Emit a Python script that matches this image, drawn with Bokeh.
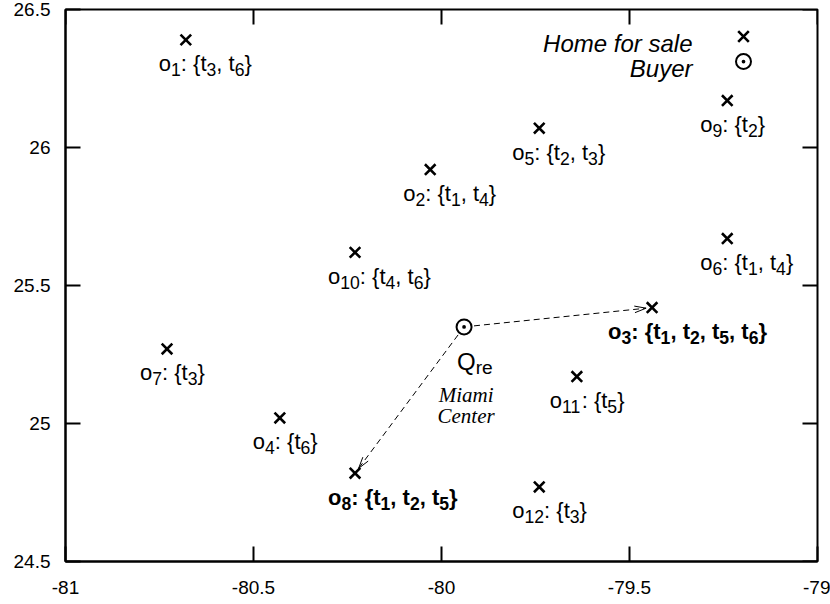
import math

from bokeh.core.properties import value
from bokeh.embed import file_html
from bokeh.models import ColumnDataSource, FixedTicker, Range1d
from bokeh.plotting import figure
from bokeh.resources import INLINE

# ---- data -------------------------------------------------------------
# homes for sale: object id, longitude, latitude and the terms each one has
home_ids = [1, 2, 3, 4, 5, 6, 7, 8, 9, 10, 11, 12]
home_lon = [-80.68, -80.03, -79.44, -80.43, -79.74, -79.24,
            -80.73, -80.23, -79.24, -80.23, -79.64, -79.74]
home_lat = [26.39, 25.92, 25.42, 25.02, 26.07, 25.67,
            25.27, 24.82, 26.17, 25.62, 25.17, 24.77]
home_terms = [[3, 6], [1, 4], [1, 2, 5, 6], [6], [2, 3], [1, 4],
              [3], [1, 2, 5], [2], [4, 6], [5], [3]]
result_ids = [3, 8]          # homes returned for the query (bold + arrow)

# the buyer issuing the query
buyer_lon = [-79.94]
buyer_lat = [25.35]
buyer_name = ["Q", "re"]     # main text, subscript
place_lines = ["Miami", "Center"]

xticks = [-81, -80.5, -80, -79.5, -79]
xtick_labels = ["-81", "-80.5", "-80", "-79.5", "-79"]
yticks = [24.5, 25, 25.5, 26, 26.5]
ytick_labels = ["24.5", "25", "25.5", "26", "26.5"]
legend_labels = ["Home for sale", "Buyer"]

# ---- layout -----------------------------------------------------------
W, H = 830, 604
BL, BR, BT, BB = 65, 13, 9, 43
FW, FH = W - BL - BR, H - BT - BB
X0, X1 = xticks[0], xticks[-1]
Y0, Y1 = yticks[0], yticks[-1]
PXX = FW / (X1 - X0)         # pixels per degree of longitude
PXY = FH / (Y1 - Y0)         # pixels per degree of latitude
TICK = 15                    # inward tick length, pixels

FONT = "Liberation Sans"
LABEL_PX = 22.0
SUB_PX = LABEL_PX * 0.8
SUB_DROP = 6

# Arial / Liberation Sans advance widths (1/1000 em)
REG = {'o': 556, 't': 278, '{': 334, '}': 334, ',': 278, ' ': 278, ':': 278,
       'Q': 778, 'r': 333, 'e': 556}
BOLD = {'o': 611, 't': 333, '{': 389, '}': 389, ',': 278, ' ': 278, ':': 333}
for d in "0123456789":
    REG[d] = 556
    BOLD[d] = 556


def text_width(s, size, bold=False):
    tbl = BOLD if bold else REG
    return sum(tbl[c] for c in s) * size / 1000.0


def label_runs(oid, terms):
    runs = [("o", False), (str(oid), True), (": {", False)]
    for k, t in enumerate(terms):
        if k:
            runs.append((", ", False))
        runs += [("t", False), (str(t), True)]
    runs.append(("}", False))
    return runs


def px_to_data(px, py):
    return X0 + (px - BL) / PXX, Y1 - (py - BT) / PXY


p = figure(width=W, height=H, x_range=Range1d(X0, X1), y_range=Range1d(Y0, Y1),
           output_backend="svg", toolbar_location=None,
           min_border_left=BL, min_border_right=BR,
           min_border_top=BT, min_border_bottom=BB)
p.grid.visible = False
p.outline_line_color = "black"
p.outline_line_width = 2

p.xaxis.ticker = FixedTicker(ticks=xticks)
p.yaxis.ticker = FixedTicker(ticks=yticks)
p.xaxis.major_label_overrides = dict(zip(xticks, xtick_labels))
p.yaxis.major_label_overrides = dict(zip(yticks, ytick_labels))
for ax in p.axis:
    ax.major_tick_in = TICK
    ax.major_tick_out = 0
    ax.major_tick_line_width = 2
    ax.major_tick_line_color = "black"
    ax.minor_tick_in = 0
    ax.minor_tick_out = 0
    ax.axis_line_width = 2
    ax.axis_line_color = "black"
    ax.major_label_text_font = FONT
    ax.major_label_text_font_size = "19px"
    ax.major_label_text_color = "black"
p.xaxis.major_label_standoff = 19
p.yaxis.major_label_standoff = 15

# mirrored inward ticks on the top and right edges of the frame
mt = dict(x0=[], y0=[], x1=[], y1=[])
for t in xticks:
    mt["x0"].append(t)
    mt["y0"].append(Y1)
    mt["x1"].append(t)
    mt["y1"].append(Y1 - TICK / PXY)
for t in yticks:
    mt["x0"].append(X1)
    mt["y0"].append(t)
    mt["x1"].append(X1 - TICK / PXX)
    mt["y1"].append(t)
p.segment(x0="x0", y0="y0", x1="x1", y1="y1", source=ColumnDataSource(mt),
          line_color="black", line_width=2)

# ---- arrows from the buyer to the returned homes ----------------------
bx, by = buyer_lon[0], buyer_lat[0]
shaft = dict(x0=[], y0=[], x1=[], y1=[])
head = dict(x0=[], y0=[], x1=[], y1=[])
for oid in result_ids:
    i = home_ids.index(oid)
    dx = (home_lon[i] - bx) * PXX
    dy = (home_lat[i] - by) * PXY
    L = math.hypot(dx, dy)
    ux, uy = dx / L, dy / L
    s = 10.0
    e = L - 6.0
    shaft["x0"].append(bx + ux * s / PXX)
    shaft["y0"].append(by + uy * s / PXY)
    shaft["x1"].append(bx + ux * e / PXX)
    shaft["y1"].append(by + uy * e / PXY)
    tx, ty = bx + ux * e / PXX, by + uy * e / PXY
    for sgn in (1, -1):
        a = math.radians(16) * sgn
        wx = -(ux * math.cos(a) - uy * math.sin(a)) * 12
        wy = -(ux * math.sin(a) + uy * math.cos(a)) * 12
        head["x0"].append(tx)
        head["y0"].append(ty)
        head["x1"].append(tx + wx / PXX)
        head["y1"].append(ty + wy / PXY)

p.segment(x0="x0", y0="y0", x1="x1", y1="y1", source=ColumnDataSource(shaft),
          line_color="black", line_width=1, line_dash="6 4")
p.segment(x0="x0", y0="y0", x1="x1", y1="y1", source=ColumnDataSource(head),
          line_color="black", line_width=1)

# ---- markers ---------------------------------------------------------
p.scatter(home_lon, home_lat, marker="x", size=15, line_width=2.6,
          line_color="black")
p.scatter(buyer_lon, buyer_lat, marker="circle_dot", size=15, line_width=2,
          line_color="black", fill_color=None)

# ---- home labels, laid out run by run so the subscripts sit low -------
groups = {}
for oid, lon, lat, terms in zip(home_ids, home_lon, home_lat, home_terms):
    bold = oid in result_ids
    cur = -44.0 if oid == 3 else -27.0
    for txt, sub in label_runs(oid, terms):
        size = SUB_PX if sub else LABEL_PX
        g = groups.setdefault((bold, sub), dict(x=[], y=[], text=[], xo=[], yo=[]))
        g["x"].append(lon)
        g["y"].append(lat)
        g["text"].append(txt)
        g["xo"].append(cur)
        g["yo"].append(24 + (SUB_DROP if sub else 0))
        cur += text_width(txt, size, bold)

for (bold, sub), g in groups.items():
    p.text(x="x", y="y", text="text", x_offset="xo", y_offset="yo",
           source=ColumnDataSource(g), text_font=value(FONT),
           text_font_size=f"{SUB_PX if sub else LABEL_PX}px",
           text_font_style="bold" if bold else "normal",
           text_color="black", text_align="left", text_baseline="alphabetic")

# buyer name with subscript
q_main, q_sub = buyer_name
Q_PX = 24
p.text(x=buyer_lon, y=buyer_lat, text=[q_main], x_offset=-7, y_offset=35,
       text_font=value(FONT), text_font_size=f"{Q_PX}px", text_color="black",
       text_align="left", text_baseline="alphabetic")
p.text(x=buyer_lon, y=buyer_lat, text=[q_sub],
       x_offset=-7 + text_width(q_main, Q_PX), y_offset=41,
       text_font=value(FONT), text_font_size=f"{Q_PX * 0.8}px",
       text_color="black", text_align="left", text_baseline="alphabetic")

# place name under the buyer
p.text(x=buyer_lon * 2, y=buyer_lat * 2, text=place_lines,
       x_offset=[2, 2], y_offset=[68, 89],
       text_font=value("Liberation Serif"), text_font_size="21px",
       text_font_style="italic", text_color="black",
       text_align="center", text_baseline="alphabetic")

# ---- key (text right aligned, symbol to its right) ------------------
kx_text, _ = px_to_data(692, 0)
kx_sym, _ = px_to_data(743, 0)
ky_text = [px_to_data(0, 43)[1], px_to_data(0, 68)[1]]
ky_sym = [px_to_data(0, 36)[1], px_to_data(0, 61)[1]]
p.text(x=[kx_text] * 2, y=ky_text, text=legend_labels,
       text_font=value(FONT), text_font_size="24px", text_font_style="italic",
       text_color="black", text_align="right", text_baseline="alphabetic")
p.scatter([kx_sym], [ky_sym[0]], marker="x", size=15, line_width=2.6,
          line_color="black")
p.scatter([kx_sym], [ky_sym[1]], marker="circle_dot", size=15, line_width=2,
          line_color="black", fill_color=None)

open("out.html", "w").write(file_html(p, INLINE))
